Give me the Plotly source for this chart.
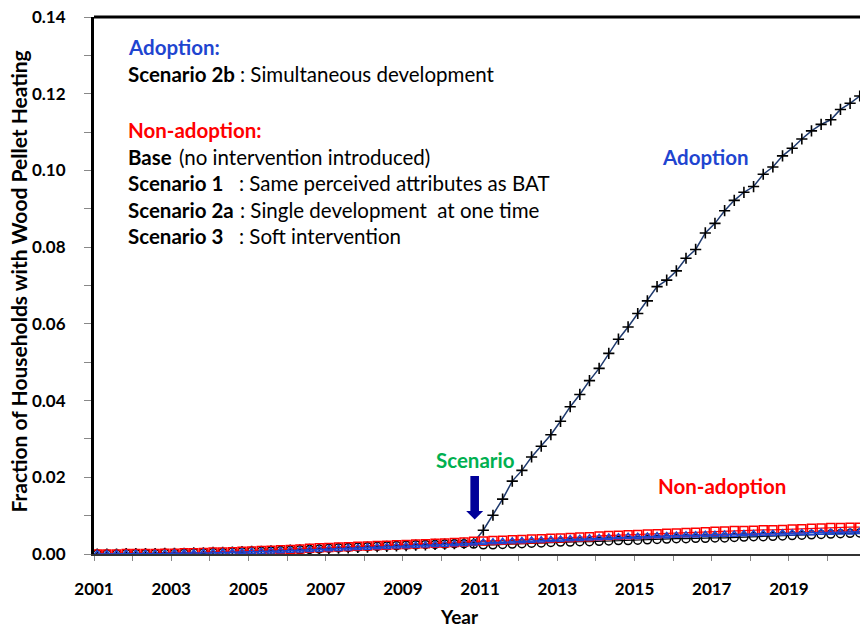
import plotly.graph_objects as go

# ---- data (quarterly model output) ----
n_points = 80
time = [2001 + 1/12 + q / 4 for q in range(n_points)]

base = [0.0000, 0.0000, 0.0000, 0.0001, 0.0001, 0.0001, 0.0001, 0.0002,
        0.0002, 0.0002, 0.0003, 0.0003, 0.0004, 0.0004, 0.0005, 0.0006,
        0.0007, 0.0007, 0.0008, 0.0009, 0.0010, 0.0011, 0.0012, 0.0013,
        0.0015, 0.0016, 0.0017, 0.0018, 0.0019, 0.0020, 0.0021, 0.0022,
        0.0023, 0.0024, 0.0025, 0.0025, 0.0026, 0.0027, 0.0027, 0.0026,
        0.0024, 0.0024, 0.0025, 0.0026, 0.0027, 0.0028, 0.0029, 0.0030,
        0.0031, 0.0031, 0.0032, 0.0032, 0.0033, 0.0034, 0.0035, 0.0035,
        0.0036, 0.0037, 0.0038, 0.0039, 0.0040, 0.0040, 0.0041, 0.0041,
        0.0042, 0.0042, 0.0043, 0.0044, 0.0045, 0.0045, 0.0046, 0.0047,
        0.0048, 0.0049, 0.0050, 0.0051, 0.0052, 0.0053, 0.0054, 0.0055]

scenario_1 = [0.0000, 0.0000, 0.0000, 0.0001, 0.0001, 0.0001, 0.0001, 0.0002,
              0.0002, 0.0003, 0.0003, 0.0004, 0.0005, 0.0005, 0.0006, 0.0007,
              0.0008, 0.0009, 0.0010, 0.0011, 0.0012, 0.0013, 0.0015, 0.0016,
              0.0017, 0.0018, 0.0019, 0.0020, 0.0021, 0.0022, 0.0023, 0.0024,
              0.0025, 0.0026, 0.0027, 0.0028, 0.0029, 0.0030, 0.0031, 0.0033,
              0.0034, 0.0035, 0.0036, 0.0037, 0.0038, 0.0039, 0.0040, 0.0041,
              0.0042, 0.0043, 0.0044, 0.0045, 0.0047, 0.0048, 0.0049, 0.0050,
              0.0051, 0.0052, 0.0053, 0.0054, 0.0055, 0.0056, 0.0057, 0.0058,
              0.0059, 0.0060, 0.0061, 0.0061, 0.0062, 0.0063, 0.0063, 0.0064,
              0.0065, 0.0066, 0.0067, 0.0068, 0.0069, 0.0069, 0.0070, 0.0070]

scenario_2a = [0.0000, 0.0000, 0.0000, 0.0001, 0.0001, 0.0001, 0.0001, 0.0001,
               0.0002, 0.0002, 0.0002, 0.0003, 0.0003, 0.0004, 0.0004, 0.0005,
               0.0006, 0.0006, 0.0007, 0.0008, 0.0009, 0.0010, 0.0011, 0.0012,
               0.0013, 0.0014, 0.0015, 0.0016, 0.0017, 0.0018, 0.0019, 0.0020,
               0.0021, 0.0022, 0.0023, 0.0024, 0.0025, 0.0026, 0.0027, 0.0028,
               0.0030, 0.0031, 0.0032, 0.0033, 0.0034, 0.0035, 0.0036, 0.0037,
               0.0038, 0.0039, 0.0040, 0.0041, 0.0042, 0.0043, 0.0044, 0.0045,
               0.0045, 0.0046, 0.0047, 0.0047, 0.0048, 0.0049, 0.0049, 0.0050,
               0.0050, 0.0051, 0.0051, 0.0052, 0.0052, 0.0053, 0.0053, 0.0054,
               0.0054, 0.0055, 0.0055, 0.0056, 0.0056, 0.0057, 0.0057, 0.0058]

scenario_2b = [0.0000, 0.0000, 0.0000, 0.0001, 0.0001, 0.0001, 0.0001, 0.0002,
               0.0002, 0.0002, 0.0003, 0.0003, 0.0004, 0.0004, 0.0005, 0.0006,
               0.0007, 0.0007, 0.0008, 0.0009, 0.0010, 0.0011, 0.0012, 0.0013,
               0.0014, 0.0015, 0.0016, 0.0017, 0.0018, 0.0019, 0.0020, 0.0021,
               0.0022, 0.0023, 0.0024, 0.0025, 0.0026, 0.0027, 0.0028, 0.0030,
               0.0062, 0.0101, 0.0143, 0.0190, 0.0218, 0.0253, 0.0281, 0.0311,
               0.0346, 0.0384, 0.0416, 0.0452, 0.0484, 0.0523, 0.0560, 0.0592,
               0.0627, 0.0660, 0.0697, 0.0714, 0.0738, 0.0771, 0.0794, 0.0837,
               0.0862, 0.0895, 0.0922, 0.0943, 0.0958, 0.0990, 0.1009, 0.1038,
               0.1058, 0.1082, 0.1103, 0.1120, 0.1132, 0.1159, 0.1175, 0.1194]

x_range = [2001, 2020.84]
y_range = [0, 0.14]

FONT = "Lato"
BLUE = "#1F45D0"
RED = "#FF0000"
GREEN = "#00B050"
NAVY = "#1F3A6E"

fig = go.Figure()

fig.add_trace(go.Scatter(
    x=time, y=scenario_2b, mode="lines+markers", name="Scenario 2b",
    line=dict(color=NAVY, width=1.5),
    marker=dict(symbol="cross-thin", size=8, line=dict(color="black", width=1.6))))
fig.add_trace(go.Scatter(
    x=time, y=base, mode="lines+markers", name="Base",
    line=dict(color="black", width=1.2),
    marker=dict(symbol="circle-open", size=8, color="black", line=dict(width=1.5))))
fig.add_trace(go.Scatter(
    x=time, y=scenario_1, mode="lines+markers", name="Scenario 1",
    line=dict(color=RED, width=1.2),
    marker=dict(symbol="square-open", size=8, color=RED, line=dict(width=1.5))))
fig.add_trace(go.Scatter(
    x=time, y=scenario_2a, mode="lines+markers", name="Scenario 2a",
    line=dict(color=BLUE, width=1.5),
    marker=dict(symbol="triangle-up-open", size=7, color=BLUE, line=dict(width=1.5))))

L, R, T, B = 94, 0, 17, 75
W, H = 860, 629
pw, ph = W - L - R, H - T - B


def px(xp):
    return (xp - L) / pw


def py(yp):
    return (H - B - yp) / ph


annotations = []


def note(text, xp, yp, size=20.5, color="black", bold=False, anchor="left"):
    t = f"<b>{text}</b>" if bold else text
    annotations.append(dict(text=t, x=px(xp), y=py(yp), xref="paper", yref="paper",
                            xanchor=anchor, yanchor="middle", showarrow=False,
                            font=dict(family=FONT, size=size, color=color)))


note("Adoption:", 126, 47, color=BLUE, bold=True)
note("Scenario 2b", 126, 74, bold=True)
note(": Simultaneous development", 238, 74)
note("Non-adoption:", 126, 130, color=RED, bold=True)
note("Base", 126, 157, bold=True)
note("(no intervention introduced)", 177, 157)
note("Scenario 1", 126, 183, bold=True)
note(": Same perceived attributes as BAT", 237, 183)
note("Scenario 2a", 126, 210, bold=True)
note(": Single development  at one time", 238, 210)
note("Scenario 3", 126, 236, bold=True)
note(": Soft intervention", 237, 236)
note("Adoption", 705, 157, color=BLUE, bold=True, anchor="center")
note("Non-adoption", 722, 486, color=RED, bold=True, anchor="center")
note("Scenario", 475, 460, color=GREEN, bold=True, anchor="center")
note("Year", 459, 616, size=19, bold=True, anchor="center")

annotations.append(dict(text="<b>Fraction of Households with Wood Pellet Heating</b>",
                        x=px(17.5), y=py(282), xref="paper", yref="paper",
                        xanchor="center", yanchor="middle", textangle=-90,
                        showarrow=False, font=dict(family=FONT, size=21, color="black")))

shapes = [
    # top border
    dict(type="line", xref="paper", yref="paper", x0=0, x1=1, y0=1, y1=1,
         line=dict(color="black", width=3)),
    # scenario arrow (pixel-sized, anchored on the axis)
    dict(type="path", xref="x", yref="y", xsizemode="pixel", ysizemode="pixel",
         xanchor=2010.86, yanchor=0,
         path="M -4.3 78 L 4.3 78 L 4.3 43 L 8.5 43 L 0 34.5 L -8.5 43 L -4.3 43 Z",
         fillcolor="#000099", line=dict(width=0)),
]

fig.update_layout(
    width=W, height=H,
    margin=dict(l=L, r=R, t=T, b=B, pad=0),
    paper_bgcolor="white", plot_bgcolor="white",
    showlegend=False,
    annotations=annotations,
    shapes=shapes,
    font=dict(family=FONT, color="black"),
)

fig.update_xaxes(
    range=x_range, showgrid=False, zeroline=False,
    showline=True, linecolor="#333333", linewidth=2,
    tickmode="linear", tick0=2001, dtick=2,
    ticks="outside", ticklen=5, tickcolor="#888888", tickwidth=1,
    minor=dict(dtick=1, tick0=2001, ticks="outside", ticklen=5, tickcolor="#888888", tickwidth=1),
    tickfont=dict(family=FONT, size=17, color="black", weight="bold"),
    ticklabelstandoff=14,
)
fig.update_yaxes(
    range=y_range, showgrid=False, zeroline=False,
    showline=True, linecolor="black", linewidth=3,
    tickmode="linear", tick0=0, dtick=0.02, tickformat=".2f",
    ticks="outside", ticklen=7, tickcolor="#888888", tickwidth=1,
    minor=dict(dtick=0.01, ticks="outside", ticklen=7, tickcolor="#888888", tickwidth=1),
    tickfont=dict(family=FONT, size=17, color="black", weight="bold"),
    ticklabelstandoff=15,
)

fig.write_html("out.html",
               config={"displayModeBar": False},
               post_script="document.body.style.margin='0';document.body.style.overflow='hidden';")
